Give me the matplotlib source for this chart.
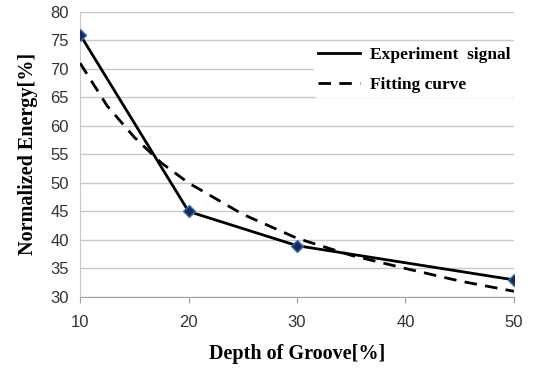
import matplotlib.pyplot as plt

# measured points
depth = [10, 20, 30, 50]
energy = [76, 45, 39, 33]

# fitting curve
fit_depth = [10, 12.5, 15, 17.5, 20, 25, 30, 35, 40, 45, 50]
fit_energy = [71, 63.5, 58, 53.5, 50, 44.5, 40.3, 37.3, 35, 32.8, 31]

xticks = [10, 20, 30, 40, 50]
yticks = [30, 35, 40, 45, 50, 55, 60, 65, 70, 75, 80]

fig = plt.figure(figsize=(5.45, 3.71), dpi=100)
ax = fig.add_axes([0.147, 0.1995, 0.796, 0.7685])

ax.plot(fit_depth, fit_energy, color='black', lw=2, ls=(0, (4.5, 3)), label='Fitting curve', zorder=3)
ax.plot(depth, energy, color='black', lw=2, label='Experiment  signal', zorder=4)
ax.plot(depth, energy, ls='none', marker='D', ms=6, mfc='#1a2a5a', mec='#3a6fb0', mew=1, zorder=5)

ax.set_xlim(10, 50)
ax.set_ylim(30, 80)
ax.set_xticks(xticks)
ax.set_yticks(yticks)
ax.yaxis.grid(True, color='#c8c8c8', lw=1)
ax.set_axisbelow(True)
for s in ['top', 'right']:
    ax.spines[s].set_visible(False)
ax.spines['left'].set_color('#c8c8c8')
ax.spines['bottom'].set_color('#a0a0a0')
ax.tick_params(axis='y', length=0, pad=8, labelsize=12, labelcolor='#333333')
ax.tick_params(axis='x', length=4, color='#a0a0a0', pad=9, labelsize=12, labelcolor='#333333')
for lab in ax.get_xticklabels() + ax.get_yticklabels():
    lab.set_family('Liberation Sans')

serif = {'family': 'Liberation Serif', 'weight': 'bold', 'size': 14.5}
ax.set_xlabel('Depth of Groove[%]', fontdict=serif, labelpad=10)
ax.set_ylabel('Normalized Energy[%]', fontdict=serif, labelpad=9)

h, l = ax.get_legend_handles_labels()
leg = ax.legend(h[::-1], l[::-1], loc='upper left', bbox_to_anchor=(0.52, 0.92),
                prop={'family': 'Liberation Serif', 'weight': 'bold', 'size': 12.5},
                frameon=True, facecolor='white', edgecolor='white', framealpha=1,
                handlelength=2.4, handletextpad=0.6, labelspacing=0.8, borderpad=0.2)

fig.savefig('out.png', dpi=100)
